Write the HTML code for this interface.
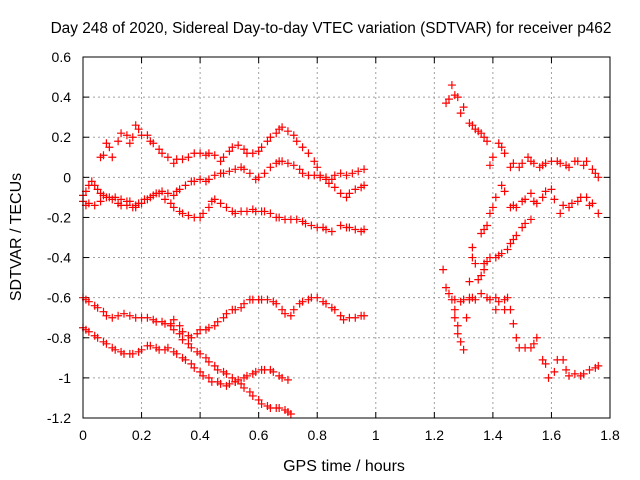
<!DOCTYPE html>
<html><head><meta charset="utf-8"><style>
body{margin:0;background:#fff}
svg{display:block;font-family:"Liberation Sans",sans-serif}
</style></head><body>
<svg id="chart" width="640" height="480" xmlns="http://www.w3.org/2000/svg">
<rect width="640" height="480" fill="#fff"/>
<text x="331" y="33" font-size="15.4" text-anchor="middle">Day 248 of 2020, Sidereal Day-to-day VTEC variation (SDTVAR) for receiver p462</text>
<text x="344" y="471" font-size="16" text-anchor="middle">GPS time / hours</text>
<text x="0" y="0" font-size="16" text-anchor="middle" transform="translate(21,237) rotate(-90)">SDTVAR / TECUs</text>
<g id="grid"></g>
<g id="ticks"></g>
<g id="marks"></g>
<rect x="83" y="57" width="527" height="361" fill="none" stroke="#000" stroke-width="1"/>
</svg>
<script>
const xTicks=[0,0.2,0.4,0.6,0.8,1,1.2,1.4,1.6,1.8];
const xTickLabels=["0","0.2","0.4","0.6","0.8","1","1.2","1.4","1.6","1.8"];
const yTicks=[0.6,0.4,0.2,0,-0.2,-0.4,-0.6,-0.8,-1,-1.2];
const yTickLabels=["0.6","0.4","0.2","0","-0.2","-0.4","-0.6","-0.8","-1","-1.2"];
const aX=[0.06,0.07,0.08,0.09,0.10,0.12,0.13,0.15,0.16,0.17,0.18,0.19,0.20,0.22,0.23,0.24,0.26,0.27,0.29,0.31,0.32,0.34,0.36,0.38,0.40,0.42,0.43,0.45,0.47,0.48,0.50,0.51,0.53,0.55,0.56,0.58,0.60,0.61,0.63,0.64,0.66,0.67,0.68,0.70,0.72,0.73,0.75,0.77,0.79,0.80,0.81,0.83,0.85,0.86,0.88,0.90,0.92,0.94,0.96];
const aY=[0.10,0.11,0.17,0.15,0.10,0.18,0.22,0.21,0.17,0.20,0.26,0.24,0.21,0.21,0.18,0.17,0.14,0.12,0.10,0.07,0.09,0.09,0.10,0.12,0.12,0.11,0.12,0.11,0.08,0.10,0.13,0.15,0.16,0.14,0.12,0.12,0.13,0.15,0.18,0.20,0.22,0.24,0.25,0.23,0.21,0.18,0.15,0.12,0.08,0.05,0.01,0.00,-0.01,0.01,0.02,0.01,0.02,0.03,0.04];
const bX=[0.00,0.01,0.02,0.03,0.04,0.05,0.06,0.07,0.09,0.11,0.13,0.15,0.16,0.18,0.19,0.21,0.23,0.25,0.27,0.29,0.31,0.32,0.33,0.35,0.37,0.38,0.40,0.42,0.43,0.45,0.47,0.48,0.50,0.52,0.54,0.55,0.57,0.59,0.60,0.62,0.64,0.66,0.67,0.68,0.70,0.72,0.74,0.75,0.77,0.79,0.81,0.83,0.84,0.86,0.88,0.90,0.91,0.93,0.95,0.96];
const bY=[-0.09,-0.07,-0.04,-0.02,-0.04,-0.06,-0.08,-0.09,-0.10,-0.10,-0.11,-0.12,-0.12,-0.14,-0.13,-0.11,-0.10,-0.08,-0.07,-0.08,-0.09,-0.07,-0.06,-0.04,-0.02,-0.02,-0.01,-0.02,-0.01,0.01,0.02,0.02,0.03,0.04,0.05,0.04,0.02,-0.01,0.00,0.02,0.05,0.07,0.08,0.08,0.07,0.06,0.04,0.02,0.01,0.01,0.00,-0.01,-0.03,-0.05,-0.08,-0.10,-0.08,-0.06,-0.05,-0.04];
const cX=[0.00,0.01,0.02,0.04,0.06,0.08,0.10,0.12,0.13,0.15,0.17,0.18,0.20,0.22,0.24,0.26,0.28,0.30,0.31,0.33,0.34,0.36,0.38,0.40,0.41,0.43,0.44,0.45,0.47,0.49,0.51,0.52,0.54,0.56,0.58,0.59,0.61,0.62,0.64,0.66,0.67,0.69,0.71,0.73,0.75,0.76,0.78,0.80,0.82,0.83,0.85,0.88,0.90,0.91,0.93,0.95,0.96];
const cY=[-0.12,-0.14,-0.13,-0.14,-0.12,-0.10,-0.11,-0.13,-0.14,-0.14,-0.15,-0.15,-0.13,-0.11,-0.09,-0.08,-0.11,-0.13,-0.15,-0.17,-0.18,-0.19,-0.20,-0.20,-0.18,-0.15,-0.12,-0.11,-0.13,-0.15,-0.17,-0.18,-0.17,-0.17,-0.16,-0.17,-0.17,-0.17,-0.18,-0.20,-0.20,-0.21,-0.21,-0.21,-0.22,-0.23,-0.24,-0.25,-0.25,-0.26,-0.27,-0.24,-0.25,-0.25,-0.26,-0.27,-0.26];
const dX=[0.00,0.01,0.02,0.04,0.05,0.07,0.08,0.10,0.12,0.14,0.16,0.18,0.20,0.22,0.24,0.25,0.27,0.28,0.30,0.31,0.33,0.34,0.36,0.37,0.39,0.40,0.42,0.43,0.45,0.46,0.48,0.49,0.51,0.52,0.54,0.55,0.57,0.58,0.60,0.61,0.63,0.65,0.66,0.68,0.69,0.71,0.72,0.74,0.75,0.77,0.78,0.80,0.82,0.83,0.85,0.86,0.88,0.89,0.91,0.93,0.95,0.96];
const dY=[-0.60,-0.61,-0.62,-0.64,-0.65,-0.67,-0.69,-0.70,-0.69,-0.68,-0.69,-0.70,-0.70,-0.70,-0.71,-0.72,-0.72,-0.73,-0.73,-0.71,-0.74,-0.77,-0.79,-0.80,-0.78,-0.76,-0.76,-0.75,-0.74,-0.72,-0.70,-0.68,-0.66,-0.66,-0.65,-0.63,-0.61,-0.61,-0.61,-0.61,-0.61,-0.62,-0.63,-0.66,-0.68,-0.69,-0.66,-0.63,-0.62,-0.61,-0.60,-0.60,-0.62,-0.63,-0.65,-0.66,-0.69,-0.71,-0.70,-0.70,-0.69,-0.69];
const eX=[0.00,0.01,0.02,0.04,0.05,0.07,0.08,0.10,0.11,0.13,0.14,0.16,0.17,0.19,0.20,0.22,0.23,0.25,0.26,0.28,0.29,0.31,0.32,0.34,0.35,0.37,0.38,0.40,0.41,0.43,0.44,0.46,0.47,0.49,0.50,0.52,0.53,0.55,0.56,0.58,0.59,0.61,0.62,0.64,0.65,0.67,0.68,0.70];
const eY=[-0.75,-0.76,-0.77,-0.79,-0.80,-0.82,-0.83,-0.85,-0.86,-0.87,-0.88,-0.88,-0.88,-0.87,-0.86,-0.84,-0.84,-0.85,-0.86,-0.86,-0.85,-0.87,-0.88,-0.90,-0.91,-0.93,-0.95,-0.97,-0.99,-1.00,-1.02,-1.02,-1.03,-1.04,-1.03,-1.02,-1.01,-1.00,-0.99,-0.98,-0.97,-0.96,-0.96,-0.96,-0.97,-0.99,-1.00,-1.01];
const fX=[0.30,0.31,0.33,0.34,0.36,0.37,0.39,0.40,0.42,0.43,0.45,0.46,0.48,0.49,0.51,0.52,0.54,0.55,0.57,0.58,0.60,0.61,0.63,0.64,0.66,0.67,0.69,0.70,0.71];
const fY=[-0.74,-0.76,-0.78,-0.81,-0.83,-0.85,-0.87,-0.88,-0.90,-0.92,-0.94,-0.96,-0.97,-0.98,-1.00,-1.02,-1.03,-1.05,-1.07,-1.09,-1.11,-1.13,-1.14,-1.15,-1.15,-1.15,-1.16,-1.17,-1.18];
const gX=[1.24,1.25,1.26,1.27,1.28,1.29,1.30,1.32,1.33,1.34,1.35,1.36,1.37,1.38,1.39,1.40,1.42,1.43,1.44,1.46,1.47,1.49,1.50,1.52,1.53,1.54,1.56,1.57,1.58,1.60,1.62,1.63,1.65,1.66,1.68,1.69,1.71,1.72,1.74,1.75,1.76];
const gY=[0.37,0.39,0.46,0.41,0.40,0.32,0.35,0.27,0.26,0.24,0.23,0.22,0.20,0.18,0.06,0.10,0.17,0.15,0.12,0.05,0.07,0.05,0.07,0.10,0.08,0.07,0.05,0.06,0.07,0.08,0.08,0.07,0.06,0.05,0.08,0.08,0.06,0.08,0.04,0.02,0.00];
const hX=[1.36,1.37,1.38,1.39,1.40,1.41,1.43,1.44,1.46,1.47,1.48,1.50,1.51,1.53,1.54,1.55,1.57,1.58,1.60,1.61,1.63,1.64,1.66,1.67,1.69,1.70,1.72,1.73,1.74,1.76];
const hY=[-0.28,-0.26,-0.24,-0.18,-0.15,-0.10,-0.04,-0.07,-0.15,-0.14,-0.15,-0.12,-0.11,-0.08,-0.12,-0.13,-0.10,-0.07,-0.06,-0.11,-0.18,-0.14,-0.15,-0.13,-0.12,-0.10,-0.10,-0.14,-0.13,-0.18];
const iX=[1.23,1.24,1.25,1.26,1.27,1.27,1.28,1.28,1.29,1.30,1.31,1.32,1.32,1.33,1.33,1.34,1.35,1.36,1.37,1.37,1.38,1.39,1.41,1.42,1.43,1.45,1.46,1.47,1.48,1.50,1.51,1.53];
const iY=[-0.46,-0.55,-0.58,-0.61,-0.66,-0.70,-0.74,-0.78,-0.82,-0.86,-0.70,-0.60,-0.52,-0.40,-0.35,-0.43,-0.51,-0.49,-0.46,-0.43,-0.42,-0.40,-0.40,-0.39,-0.38,-0.36,-0.33,-0.31,-0.29,-0.25,-0.23,-0.21];
const jX=[1.27,1.29,1.30,1.32,1.33,1.34,1.36,1.38,1.39,1.41,1.42,1.44,1.45,1.41,1.44,1.46,1.47,1.48,1.49,1.51,1.53,1.54,1.55,1.57,1.58,1.59,1.61,1.62,1.64,1.65,1.66,1.68,1.70,1.71,1.73,1.75,1.76];
const jY=[-0.61,-0.62,-0.61,-0.61,-0.60,-0.61,-0.58,-0.60,-0.61,-0.60,-0.62,-0.61,-0.60,-0.66,-0.66,-0.66,-0.73,-0.80,-0.85,-0.85,-0.85,-0.83,-0.80,-0.91,-0.93,-1.00,-0.97,-0.91,-0.91,-0.96,-0.99,-0.98,-0.99,-0.98,-0.96,-0.95,-0.94];
const seriesX=[aX,bX,cX,dX,eX,fX,gX,hX,iX,jX];
const seriesY=[aY,bY,cY,dY,eY,fY,gY,hY,iY,jY];

const L=83,R=610,T=57,B=418,xmin=0,xmax=1.8,ymin=-1.2,ymax=0.6;
const sx=v=>L+(v-xmin)/(xmax-xmin)*(R-L);
const sy=v=>B-(v-ymin)/(ymax-ymin)*(B-T);
const NS="http://www.w3.org/2000/svg";
function mk(tag,attrs,parent){const e=document.createElementNS(NS,tag);for(const k in attrs)e.setAttribute(k,attrs[k]);parent.appendChild(e);return e;}
const grid=document.getElementById('grid'),ticks=document.getElementById('ticks'),marks=document.getElementById('marks');
xTicks.forEach((v,i)=>{const x=sx(v);
 if(i>0&&i<xTicks.length-1){const g=mk('line',{x1:x,x2:x,y1:T,y2:B,stroke:'#a0a0a0','stroke-dasharray':'2,3'},grid);
 
 }
 mk('line',{x1:x,x2:x,y1:B,y2:B-6,stroke:'#000'},ticks);
 mk('line',{x1:x,x2:x,y1:T,y2:T+6,stroke:'#000'},ticks);
 const t=mk('text',{x:x,y:B+22,'font-size':14,'text-anchor':'middle'},ticks);t.textContent=xTickLabels[i];
 
 
});
yTicks.forEach((v,i)=>{const y=sy(v);
 if(i>0&&i<yTicks.length-1){const g=mk('line',{x1:L,x2:R,y1:y,y2:y,stroke:'#a0a0a0','stroke-dasharray':'2,3'},grid);
 
 }
 mk('line',{x1:L,x2:L+6,y1:y,y2:y,stroke:'#000'},ticks);
 mk('line',{x1:R,x2:R-6,y1:y,y2:y,stroke:'#000'},ticks);
 const t=mk('text',{x:L-12,y:y+5,'font-size':14,'text-anchor':'end'},ticks);t.textContent=yTickLabels[i];
 
 
});
seriesX.forEach((xs,s)=>{xs.forEach((xv,k)=>{const x=sx(xv),y=sy(seriesY[s][k]);
 const p=mk('path',{d:`M${x-4},${y}H${x+4}M${x},${y-4}V${y+4}`,stroke:'#ff0000','stroke-width':1.2,fill:'none'},marks);
 
 
});});
</script>
</body></html>
